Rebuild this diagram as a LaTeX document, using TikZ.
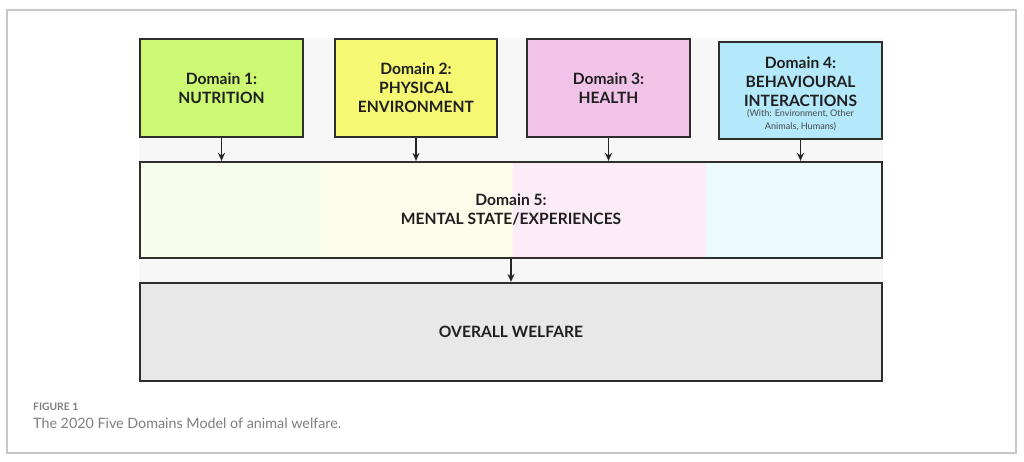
\documentclass[tikz,border=0pt]{standalone}
\usepackage{fontspec}
\setmainfont{Lato}
\usetikzlibrary{arrows.meta}
\definecolor{cframe}{HTML}{C8C8C8}
\definecolor{cpanel}{HTML}{F7F7F7}
\definecolor{cborder}{HTML}{2E2E2E}
\definecolor{cone}{HTML}{CDF874}
\definecolor{ctwo}{HTML}{F6F873}
\definecolor{cthree}{HTML}{F2C3E8}
\definecolor{cfour}{HTML}{B4E9FB}
\definecolor{lone}{HTML}{F6FDEC}
\definecolor{ltwo}{HTML}{FDFDEC}
\definecolor{lthree}{HTML}{FBECF7}
\definecolor{lfour}{HTML}{EBFAFC}
\definecolor{cwel}{HTML}{E8E8E8}
\definecolor{ccap}{HTML}{7E7E7E}
\tikzset{
  dombox/.style={draw=cborder, line width=2.2pt, rectangle, inner sep=0pt, align=center,
    font=\bfseries\fontsize{15.6}{19}\selectfont, text=black!88},
  arr/.style={draw=black!85, line width=1.4pt, -{Stealth[length=8pt,width=7pt]}},
  note/.style={align=center, font=\fontsize{9.1}{12.6}\selectfont, text=black!72},
}
\begin{document}
\begin{tikzpicture}[x=1pt,y=-1pt]
\useasboundingbox (0,0) rectangle (1024,461);
% outer frame
\draw[cframe, line width=1.2pt] (7,10) rectangle (1016,453);
% panel
\fill[cpanel] (139,38) rectangle (883,381);
% domain 5 tinted regions
\fill[lone] (141,163) rectangle (320,257);
\fill[ltwo] (320,163) rectangle (513,257);
\fill[lthree] (513,163) rectangle (706,257);
\fill[lfour] (706,163) rectangle (881,257);
% top boxes
\node[dombox, fill=cone, minimum width=163pt, minimum height=98pt] (b1) at (221.5,88) {Domain 1:\\NUTRITION};
\node[dombox, fill=ctwo, minimum width=162pt, minimum height=98pt] (b2) at (416,88) {Domain 2:\\PHYSICAL\\ENVIRONMENT};
\node[dombox, fill=cthree, minimum width=163pt, minimum height=98pt] (b3) at (608.5,88) {Domain 3:\\HEALTH};
\node[dombox, fill=cfour, minimum width=163pt, minimum height=97pt] (b4) at (800.5,90.5) {};
\node[align=center, font=\bfseries\fontsize{15.6}{19}\selectfont, text=black!88] (b4t) at (800.5,81.5) {Domain 4:\\BEHAVIOURAL\\INTERACTIONS};
\node[note] (b4n) at (800.5,120) {(With: Environment, Other\\Animals, Humans)};
% domain 5
\node[dombox, minimum width=742pt, minimum height=96pt] (d5) at (511,210) {Domain 5:\\MENTAL STATE/EXPERIENCES};
% overall welfare
\node[dombox, fill=cwel, minimum width=742pt, minimum height=98pt] (wel) at (511,332) {OVERALL WELFARE};
% arrows
\draw[arr] (b1.south) -- (b1.south |- d5.north);
\draw[arr] (b2.south) -- (b2.south |- d5.north);
\draw[arr] (b3.south) -- (b3.south |- d5.north);
\draw[arr] (b4.south) -- (b4.south |- d5.north);
\draw[arr] (d5.south) -- (wel.north);
% caption
\node[anchor=west, inner sep=0pt, font=\bfseries\fontsize{10.3}{12}\selectfont, text=ccap] (figlab) at (33,407) {FIGURE 1};
\node[anchor=west, inner sep=0pt, font=\fontsize{14.3}{16}\selectfont, text=ccap] (figcap) at (33,423) {The 2020 Five Domains Model of animal welfare.};
\end{tikzpicture}
\end{document}
